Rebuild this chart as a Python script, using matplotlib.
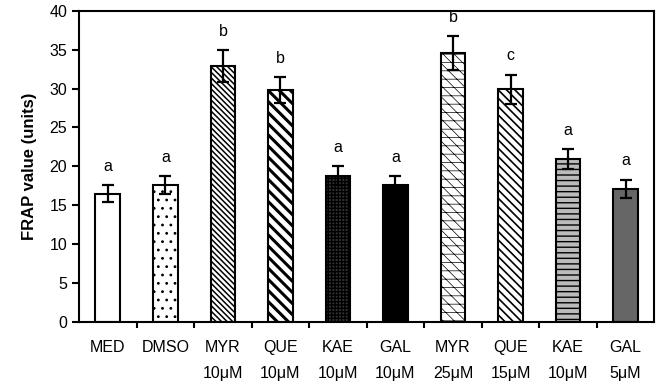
import matplotlib
matplotlib.use("Agg")
import matplotlib.pyplot as plt
import numpy as np

plt.rcParams['font.family'] = ['Liberation Sans', 'DejaVu Sans']

# data
labels = ["MED", "DMSO", "MYR\n10\u03bcM", "QUE\n10\u03bcM", "KAE\n10\u03bcM",
          "GAL\n10\u03bcM", "MYR\n25\u03bcM", "QUE\n15\u03bcM", "KAE\n10\u03bcM", "GAL\n5\u03bcM"]
frap = [16.5, 17.6, 32.9, 29.8, 18.8, 17.6, 34.6, 29.9, 20.9, 17.1]
sem = [1.1, 1.1, 2.0, 1.7, 1.2, 1.1, 2.2, 1.9, 1.3, 1.2]
letters = ["a", "a", "b", "b", "a", "a", "b", "c", "a", "a"]

# look of each bar
faces = ["white", "white", "white", "white", "#333333", "black", "white", "white", "#bbbbbb", "#666666"]
hatches = [None, "..", "\\\\\\\\\\\\", "\\\\\\", "+++++", None, "--\\\\\\", "\\\\\\\\", "---", None]
hlw = [1.0, 0.8, 1.1, 2.2, 1.0, 1.0, 0.5, 1.2, 1.0, 1.0]

fig = plt.figure(figsize=(6.59, 3.86), dpi=100)
ax = fig.add_axes([0.12, 0.166, 0.873, 0.806])

x = np.arange(len(frap))
for i in range(len(frap)):
    plt.rcParams['hatch.linewidth'] = hlw[i]
    ax.bar(x[i], frap[i], width=0.43, color=faces[i], edgecolor="black",
           linewidth=1.5, hatch=hatches[i], zorder=2)
ax.errorbar(x, frap, yerr=sem, fmt="none", ecolor="black", elinewidth=1.6,
            capsize=4.5, capthick=1.6, zorder=3)

for i in range(len(frap)):
    ax.text(x[i], frap[i] + sem[i] + 2.4, letters[i], ha="center", va="center", fontsize=11.5)

ax.set_xlim(-0.5, len(frap) - 0.5)
ax.set_ylim(0, 40)
ax.set_yticks(np.arange(0, 41, 5))
ax.set_xticks(x)
ax.set_xticklabels(labels, fontsize=11.5, linespacing=1.9, va="top")
ax.set_xticks(np.arange(0.5, len(frap) - 1, 1), minor=True)
ax.tick_params(axis="x", which="major", length=0, pad=13)
ax.tick_params(axis="x", which="minor", length=4, width=1.5, direction="out")
ax.tick_params(axis="y", length=5, width=1.5, direction="out", labelsize=11.5)
ax.set_ylabel("FRAP value (units)", fontsize=12, fontweight="bold", labelpad=9)
for s in ax.spines.values():
    s.set_linewidth(1.5)

fig.savefig("out.png", dpi=100)
